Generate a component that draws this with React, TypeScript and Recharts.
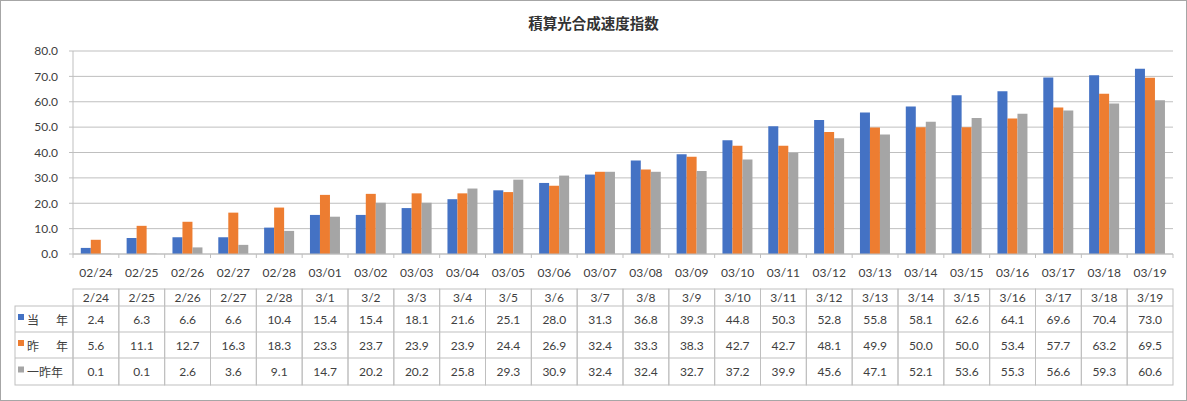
import React from "react";
import { BarChart, Bar, XAxis, YAxis, CartesianGrid } from "recharts";

const axisLabels = ["02/24","02/25","02/26","02/27","02/28","03/01","03/02","03/03","03/04","03/05","03/06","03/07","03/08","03/09","03/10","03/11","03/12","03/13","03/14","03/15","03/16","03/17","03/18","03/19"];
const tableLabels = ["2/24","2/25","2/26","2/27","2/28","3/1","3/2","3/3","3/4","3/5","3/6","3/7","3/8","3/9","3/10","3/11","3/12","3/13","3/14","3/15","3/16","3/17","3/18","3/19"];
const thisYear = [2.4,6.3,6.6,6.6,10.4,15.4,15.4,18.1,21.6,25.1,28.0,31.3,36.8,39.3,44.8,50.3,52.8,55.8,58.1,62.6,64.1,69.6,70.4,73.0];
const lastYear = [5.6,11.1,12.7,16.3,18.3,23.3,23.7,23.9,23.9,24.4,26.9,32.4,33.3,38.3,42.7,42.7,48.1,49.9,50.0,50.0,53.4,57.7,63.2,69.5];
const twoYearsAgo = [0.1,0.1,2.6,3.6,9.1,14.7,20.2,20.2,25.8,29.3,30.9,32.4,32.4,32.7,37.2,39.9,45.6,47.1,52.1,53.6,55.3,56.6,59.3,60.6];
const yTicks = [0,10,20,30,40,50,60,70,80];
const seriesNames = ["当年","昨年","一昨年"];
const seriesColors = ["#4472C4","#ED7D31","#A5A5A5"];
const seriesValues = [thisYear, lastYear, twoYearsAgo];

const data = axisLabels.map((c, i) => ({
  cat: c,
  a: thisYear[i],
  b: lastYear[i],
  c: twoYearsAgo[i],
}));

const W = 1187;
const H = 401;
const PLOT_L = 73;
const PLOT_R = 1173;
const PLOT_T = 51;
const PLOT_B = 254;
const N = axisLabels.length;
const BW = (PLOT_R - PLOT_L) / N;
const LEG_W = 58;
const ROW_Y = [289, 306, 332, 358, 385];
const GRID = "#BFBFBF";
const TXT = "#404040";
const FONT = "Lato, 'Noto Sans CJK JP', sans-serif";
const JFONT = "'Noto Sans CJK JP', sans-serif";

function TableTick(props: any) {
  const { x, index } = props;
  const i = props.payload && props.payload.index != null ? props.payload.index : index;
  const left = x - BW / 2;
  const right = x + BW / 2;
  const els: any[] = [];
  els.push(<line key="t0" x1={left} x2={left} y1={PLOT_B} y2={PLOT_B + 4} stroke={GRID} />);
  if (i === N - 1) els.push(<line key="t1" x1={right} x2={right} y1={PLOT_B} y2={PLOT_B + 4} stroke={GRID} />);
  els.push(
    <text key="lab" x={x} y={272} textAnchor="middle" dominantBaseline="central" fontSize={12} fill={TXT} fontFamily={FONT}>
      {axisLabels[i]}
    </text>
  );
  els.push(<rect key="cell" x={left} y={ROW_Y[0]} width={BW} height={ROW_Y[4] - ROW_Y[0]} fill="none" stroke={GRID} />);
  [1, 2, 3].forEach((r) => {
    els.push(<line key={"h" + r} x1={left} x2={right} y1={ROW_Y[r]} y2={ROW_Y[r]} stroke={GRID} />);
  });
  els.push(
    <text key="hd" x={x} y={(ROW_Y[0] + ROW_Y[1]) / 2} textAnchor="middle" dominantBaseline="central" fontSize={12} fill={TXT} fontFamily={FONT}>
      {tableLabels[i]}
    </text>
  );
  seriesValues.forEach((vals, s) => {
    els.push(
      <text key={"v" + s} x={x} y={(ROW_Y[s + 1] + ROW_Y[s + 2]) / 2} textAnchor="middle" dominantBaseline="central" fontSize={12} fill={TXT} fontFamily={FONT}>
        {vals[i].toFixed(1)}
      </text>
    );
  });
  if (i === 0) {
    const l0 = left - LEG_W;
    els.push(<rect key="lg" x={l0} y={ROW_Y[1]} width={LEG_W} height={ROW_Y[4] - ROW_Y[1]} fill="none" stroke={GRID} />);
    [2, 3].forEach((r) => {
      els.push(<line key={"lh" + r} x1={l0} x2={left} y1={ROW_Y[r]} y2={ROW_Y[r]} stroke={GRID} />);
    });
    seriesNames.forEach((name, s) => {
      const cy = (ROW_Y[s + 1] + ROW_Y[s + 2]) / 2;
      els.push(<rect key={"m" + s} x={l0 + 3} y={cy - 5} width={6} height={6} fill={seriesColors[s]} />);
      if (name.length === 2) {
        els.push(
          <text key={"n1" + s} x={l0 + 12} y={cy} dominantBaseline="central" fontSize={12} fill={TXT} fontFamily={JFONT}>{name[0]}</text>
        );
        els.push(
          <text key={"n2" + s} x={l0 + 41} y={cy} dominantBaseline="central" fontSize={12} fill={TXT} fontFamily={JFONT}>{name[1]}</text>
        );
      } else {
        els.push(
          <text key={"n" + s} x={l0 + 12} y={cy} dominantBaseline="central" fontSize={12} fill={TXT} fontFamily={JFONT}>{name}</text>
        );
      }
    });
  }
  return <g>{els}</g>;
}

export default function App() {
  return (
    <div style={{ position: "absolute", left: 0, top: 0, width: W, height: H, background: "#fff" }}>
      <BarChart
        width={W}
        height={H}
        data={data}
        margin={{ top: PLOT_T, right: W - PLOT_R, left: PLOT_L - 60, bottom: H - PLOT_B - 30 }}
        barCategoryGap="17%"
        barGap={0}
      >
        <CartesianGrid vertical={false} stroke={GRID} />
        <XAxis
          dataKey="cat"
          interval={0}
          height={30}
          tickLine={false}
          axisLine={{ stroke: GRID }}
          tick={<TableTick />}
        />
        <YAxis
          width={60}
          domain={[0, 80]}
          ticks={yTicks}
          tickFormatter={(v: number) => v.toFixed(1)}
          axisLine={{ stroke: GRID }}
          tickLine={{ stroke: GRID }}
          tickSize={4}
          tickMargin={11}
          tick={{ fontSize: 12, fill: TXT, fontFamily: FONT }}
        />
        <Bar dataKey="a" name={seriesNames[0]} fill={seriesColors[0]} isAnimationActive={false} />
        <Bar dataKey="b" name={seriesNames[1]} fill={seriesColors[1]} isAnimationActive={false} />
        <Bar dataKey="c" name={seriesNames[2]} fill={seriesColors[2]} isAnimationActive={false} />
      </BarChart>
      <div
        style={{
          position: "absolute",
          left: 0,
          top: 13,
          width: W,
          textAlign: "center",
          fontFamily: JFONT,
          fontWeight: 700,
          fontSize: 14.5,
          color: "#333",
          lineHeight: "20px",
        }}
      >
        積算光合成速度指数
      </div>
      <div
        style={{
          position: "absolute",
          left: 0,
          top: 0,
          width: W,
          height: H,
          boxSizing: "border-box",
          border: "1px solid #A6A6A6",
          pointerEvents: "none",
        }}
      />
    </div>
  );
}
